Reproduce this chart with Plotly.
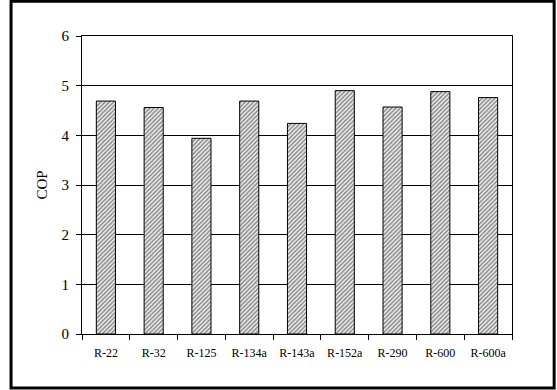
import plotly.graph_objects as go

refrigerants = ["R-22", "R-32", "R-125", "R-134a", "R-143a", "R-152a", "R-290", "R-600", "R-600a"]
cop = [4.69, 4.56, 3.94, 4.69, 4.24, 4.90, 4.57, 4.88, 4.76]
y_ticks = [0, 1, 2, 3, 4, 5, 6]

fig = go.Figure()
fig.add_trace(go.Bar(
    x=refrigerants, y=cop, width=0.4,
    marker=dict(color="white", line=dict(color="black", width=1),
                pattern=dict(shape="/", fgcolor="#222222", bgcolor="#f0f0f0", size=3, solidity=0.5)),
    showlegend=False,
))

font = "Times New Roman, Liberation Serif, serif"
fig.update_layout(
    width=557, height=390,
    margin=dict(l=82, r=45, t=36, b=56),
    paper_bgcolor="white", plot_bgcolor="white",
    font=dict(family=font, color="black"),
    xaxis=dict(showline=True, linecolor="black", linewidth=1, mirror=True,
               ticks="outside", tickson="boundaries", ticklen=5, tickcolor="black",
               ticklabelstandoff=8,
               tickfont=dict(size=12, family=font), showgrid=False),
    yaxis=dict(range=[0, 6], tickvals=y_ticks, showline=True, linecolor="black", linewidth=1, mirror=True,
               ticks="outside", ticklen=5, tickcolor="black", showgrid=True, gridcolor="black", gridwidth=1,
               zeroline=False, tickfont=dict(size=15, family=font), ticklabelstandoff=4,
               title=dict(text="COP", font=dict(size=15, family=font), standoff=10)),
    shapes=[dict(type="rect", xref="paper", yref="paper", x0=-0.165, x1=1.098, y0=-0.181, y1=1.117,
                 line=dict(color="black", width=3), fillcolor="rgba(0,0,0,0)")],
    bargap=0.6,
)

fig.write_html("out.html")
